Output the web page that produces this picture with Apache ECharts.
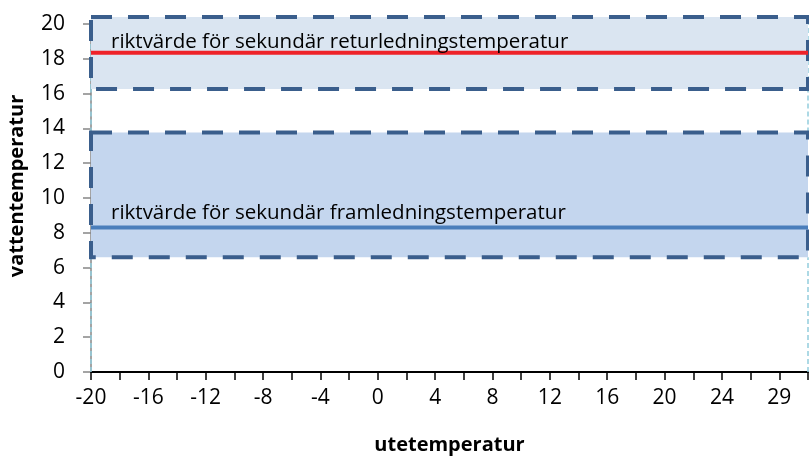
<!DOCTYPE html>
<html>
<head>
<meta charset="utf-8">
<title>riktvärden vattentemperatur</title>
<script src="https://cdn.jsdelivr.net/npm/echarts@6/dist/echarts.min.js"></script>
<style>
  html, body { margin: 0; padding: 0; background: #fff; }
  #chart { width: 809px; height: 460px; }
</style>
</head>
<body>
<div id="chart"></div>
<script>
  // utetemperatur (kategorier)
  var categories = ['-20', '-19', '-18', '-17', '-16', '-15', '-14', '-13', '-12', '-11',
    '-10', '-9', '-8', '-7', '-6', '-5', '-4', '-3', '-2', '-1',
    '0', '1', '2', '3', '4', '5', '6', '7', '8', '9',
    '10', '11', '12', '13', '14', '15', '16', '17', '18', '19',
    '20', '21', '22', '23', '24', '25', '26', '27', '29', '30', '31'];

  // riktvärden
  var returValues = [18.35, 18.35, 18.35, 18.35, 18.35, 18.35, 18.35, 18.35, 18.35, 18.35,
    18.35, 18.35, 18.35, 18.35, 18.35, 18.35, 18.35, 18.35, 18.35, 18.35,
    18.35, 18.35, 18.35, 18.35, 18.35, 18.35, 18.35, 18.35, 18.35, 18.35,
    18.35, 18.35, 18.35, 18.35, 18.35, 18.35, 18.35, 18.35, 18.35, 18.35,
    18.35, 18.35, 18.35, 18.35, 18.35, 18.35, 18.35, 18.35, 18.35, 18.35, 18.35];
  var framValues = [8.3, 8.3, 8.3, 8.3, 8.3, 8.3, 8.3, 8.3, 8.3, 8.3,
    8.3, 8.3, 8.3, 8.3, 8.3, 8.3, 8.3, 8.3, 8.3, 8.3,
    8.3, 8.3, 8.3, 8.3, 8.3, 8.3, 8.3, 8.3, 8.3, 8.3,
    8.3, 8.3, 8.3, 8.3, 8.3, 8.3, 8.3, 8.3, 8.3, 8.3,
    8.3, 8.3, 8.3, 8.3, 8.3, 8.3, 8.3, 8.3, 8.3, 8.3, 8.3];

  // toleransband [från kategori, till kategori, lägsta, högsta]
  var returBand = [0, 50, 16.26, 20.4];
  var framBand = [0, 50, 6.6, 13.77];
  // tomma mellanrum (ljusblå streckad kant)
  var gaps = [[0, 50, 0, 6.6], [0, 50, 13.77, 16.26], [0, 50, 16.26, 20.4]];

  var yTicks = { min: 0, max: 20, interval: 2 };

  var labelRetur = 'riktvärde för sekundär returledningstemperatur';
  var labelFram = 'riktvärde för sekundär framledningstemperatur';

  var font = '"Open Sans", sans-serif';

  var myChart = echarts.init(document.getElementById('chart'));

  function bandItem(fill) {
    return function (params, api) {
      var p1 = api.coord([api.value(0), api.value(3)]);
      var p2 = api.coord([api.value(1), api.value(2)]);
      return {
        type: 'rect',
        shape: { x: p1[0], y: p1[1], width: p2[0] - p1[0], height: p2[1] - p1[1] },
        style: { fill: fill, stroke: '#3A5E8C', lineWidth: 4, lineDash: [21, 16] }
      };
    };
  }

  function gapItem(params, api) {
    var a = api.coord([api.value(0), api.value(2)]);
    var b = api.coord([api.value(0), api.value(3)]);
    var c = api.coord([api.value(1), api.value(2)]);
    var d = api.coord([api.value(1), api.value(3)]);
    var st = { stroke: '#93CDDD', lineWidth: 1.5, lineDash: [5, 3] };
    return {
      type: 'group',
      children: [
        { type: 'line', shape: { x1: a[0], y1: a[1], x2: b[0], y2: b[1] }, style: st },
        { type: 'line', shape: { x1: c[0], y1: c[1], x2: d[0], y2: d[1] }, style: st }
      ]
    };
  }

  var option = {
    animation: false,
    grid: { left: 91, right: 1, top: 24, bottom: 87 },
    xAxis: {
      type: 'category',
      data: categories,
      boundaryGap: false,
      name: 'utetemperatur',
      nameLocation: 'middle',
      nameGap: 63,
      nameTextStyle: { fontFamily: font, fontSize: 20, fontWeight: 'bold', color: '#000' },
      axisLine: { lineStyle: { color: '#000', width: 2 } },
      axisTick: { show: true, interval: 1, length: 8, lineStyle: { color: '#000', width: 1.5 } },
      axisLabel: { interval: 3, margin: 16, fontFamily: font, fontSize: 21, color: '#000' },
      splitLine: { show: false }
    },
    yAxis: {
      type: 'value',
      min: yTicks.min,
      max: yTicks.max,
      interval: yTicks.interval,
      axisLine: { show: true, lineStyle: { color: '#868686', width: 1.5 } },
      axisTick: { show: true, length: 8, lineStyle: { color: '#868686', width: 1.5 } },
      axisLabel: { margin: 26, fontFamily: font, fontSize: 21, color: '#000' },
      splitLine: { show: false }
    },
    series: [
      {
        type: 'custom',
        name: 'mellanrum',
        renderItem: gapItem,
        encode: { x: [0, 1], y: [2, 3] },
        data: gaps,
        z: 1
      },
      {
        type: 'custom',
        name: 'returband',
        renderItem: bandItem('#DAE5F1'),
        encode: { x: [0, 1], y: [2, 3] },
        data: [returBand],
        z: 2
      },
      {
        type: 'custom',
        name: 'framband',
        renderItem: bandItem('#C4D6EE'),
        encode: { x: [0, 1], y: [2, 3] },
        data: [framBand],
        z: 2
      },
      {
        type: 'line',
        name: labelRetur,
        data: returValues,
        symbol: 'none',
        lineStyle: { color: '#EE2229', width: 4 },
        z: 3
      },
      {
        type: 'line',
        name: labelFram,
        data: framValues,
        symbol: 'none',
        lineStyle: { color: '#4A7EBB', width: 4 },
        z: 3
      }
    ]
  };
  myChart.setOption(option);

  // texter vid linjerna, placerade via axlarnas skalor
  var pR = myChart.convertToPixel({ gridIndex: 0 }, [0, returValues[0]]);
  var pF = myChart.convertToPixel({ gridIndex: 0 }, [0, framValues[0]]);
  myChart.setOption({
    graphic: [
      {
        type: 'text', x: pR[0] + 20, y: pR[1] - 11, z: 10,
        style: { text: labelRetur, fontFamily: font, fontSize: 20.5, fill: '#000', verticalAlign: 'middle' }
      },
      {
        type: 'text', x: pF[0] + 20, y: pF[1] - 14, z: 10,
        style: { text: labelFram, fontFamily: font, fontSize: 20.5, fill: '#000', verticalAlign: 'middle' }
      },
      {
        type: 'text', x: 17, y: 186, rotation: Math.PI / 2, z: 10,
        style: {
          text: 'vattentemperatur', fontFamily: font, fontSize: 20, fontWeight: 'bold',
          fill: '#000', align: 'center', verticalAlign: 'middle'
        }
      }
    ]
  });
</script>
</body>
</html>
